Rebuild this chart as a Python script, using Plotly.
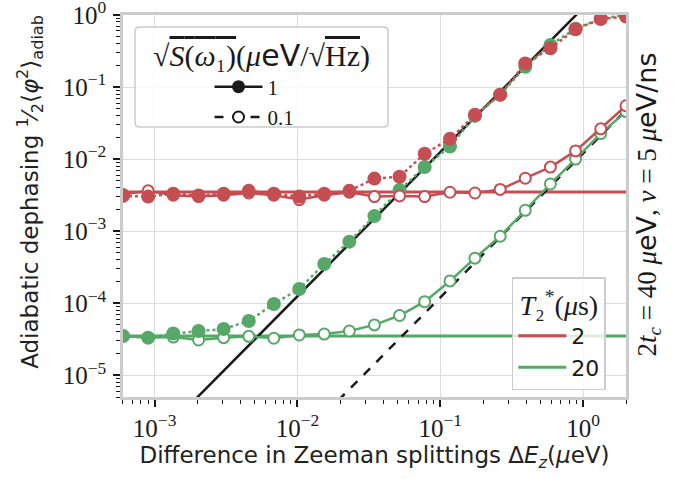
import plotly.graph_objects as go

# ---- data ----
delta_ez = [6.0e-4, 9.0e-4, 1.35e-3, 2.03e-3, 3.04e-3, 4.56e-3, 6.83e-3, 1.03e-2,
            1.54e-2, 2.31e-2, 3.46e-2, 5.19e-2, 7.78e-2, 0.117, 0.175, 0.263,
            0.394, 0.591, 0.887, 1.33, 2.0]

red_noise1 = [3.09e-3, 3.02e-3, 3.31e-3, 3.13e-3, 3.31e-3, 3.63e-3, 3.31e-3, 3.02e-3,
              3.31e-3, 3.63e-3, 5.37e-3, 5.69e-3, 1.19e-2, 1.91e-2, 4.12e-2, 7.85e-2,
              0.212, 0.345, 0.635, 0.877, 0.955]
red_noise01 = [3.24e-3, 3.63e-3, 3.16e-3, 3.02e-3, 3.16e-3, 3.39e-3, 3.16e-3, 2.75e-3,
               3.16e-3, 3.47e-3, 3.02e-3, 3.09e-3, 3.02e-3, 3.47e-3, 3.39e-3, 3.80e-3,
               5.43e-3, 7.76e-3, 1.30e-2, 2.63e-2, 5.50e-2]
green_noise1 = [3.51e-5, 3.33e-5, 3.80e-5, 4.12e-5, 4.40e-5, 5.68e-5, 9.77e-5, 1.58e-4,
                3.51e-4, 7.16e-4, 1.62e-3, 3.72e-3, 7.76e-3, 1.50e-2, 3.98e-2, 7.82e-2,
                0.191, 0.383, 0.646, 0.891, 1.0]
green_noise01 = [3.51e-5, 3.33e-5, 3.39e-5, 3.09e-5, 3.33e-5, 3.47e-5, 3.27e-5, 3.63e-5,
                 3.74e-5, 4.12e-5, 5.01e-5, 6.76e-5, 1.05e-4, 2.04e-4, 4.22e-4, 8.51e-4,
                 1.95e-3, 4.52e-3, 1.0e-2, 2.26e-2, 4.57e-2]

t2_labels = ["2", "20"]
t2_limits = [3.5e-3, 3.5e-5]

asym_x = [6.0e-4, 2.0]
asym_noise1 = [4.5e-7, 5.0]
asym_noise01 = [4.32e-9, 4.8e-2]

noise_labels = ["1", "0.1"]

x_ticks = [1e-3, 1e-2, 1e-1, 1e0]
x_ticktext = ["10<sup>−3</sup>", "10<sup>−2</sup>", "10<sup>−1</sup>", "10<sup>0</sup>"]
y_ticks = [1e-5, 1e-4, 1e-3, 1e-2, 1e-1, 1e0]
y_ticktext = ["10<sup>−5</sup>", "10<sup>−4</sup>", "10<sup>−3</sup>", "10<sup>−2</sup>",
              "10<sup>−1</sup>", "10<sup>0</sup>"]

RED = "#C44E52"
GREEN = "#55A868"
BLACK = "#1a1a1a"
SERIF = "Liberation Serif"
SANS = "DejaVu Sans"

fig = go.Figure()

# T2* limit lines
for lab, lim, col in zip(t2_labels, t2_limits, [RED, GREEN]):
    fig.add_trace(go.Scatter(
        x=[delta_ez[0], delta_ez[-1]], y=[lim, lim], mode="lines",
        line=dict(color=col, width=3), name=lab, legend="legend2", showlegend=True))

# asymptotes
fig.add_trace(go.Scatter(x=asym_x, y=asym_noise1, mode="lines",
                         line=dict(color=BLACK, width=2.5), showlegend=False))
fig.add_trace(go.Scatter(x=asym_x, y=asym_noise01, mode="lines",
                         line=dict(color=BLACK, width=2.5, dash="dash"), showlegend=False))

def add_series(y, col, filled):
    if filled:
        fig.add_trace(go.Scatter(
            x=delta_ez, y=y, mode="lines+markers",
            line=dict(color=col, width=2.5, dash="dot"),
            marker=dict(size=14, color=col, line=dict(width=0)),
            showlegend=False))
    else:
        fig.add_trace(go.Scatter(
            x=delta_ez, y=y, mode="lines+markers",
            line=dict(color=col, width=2.5),
            marker=dict(size=11, color="white", line=dict(width=2, color=col)),
            showlegend=False))

add_series(green_noise01, GREEN, False)
add_series(green_noise1, GREEN, True)
add_series(red_noise01, RED, False)
add_series(red_noise1, RED, True)

# legend 1 entries (noise amplitude)
fig.add_trace(go.Scatter(x=[None], y=[None], mode="lines+markers", name=noise_labels[0],
                         line=dict(color=BLACK, width=2.5),
                         marker=dict(size=13, color=BLACK), legend="legend"))
fig.add_trace(go.Scatter(x=[None], y=[None], mode="lines+markers", name=noise_labels[1],
                         line=dict(color=BLACK, width=2.5, dash="dash"),
                         marker=dict(size=11, color="white", line=dict(width=2, color=BLACK)),
                         legend="legend"))

ov = "<span style='text-decoration:overline'>"
leg1_title = ("√" + ov + "<i>S</i>(<i>ω</i>₁)</span>(<i>μ</i>"
              "<span style='font-family:" + SANS + "'>eV</span>/√" + ov + "Hz</span>)")
leg2_title = "<i>T</i>₂<sup>*</sup>(<i>μ</i>s)"

axis_common = dict(
    type="log", showline=True, linecolor="#cccccc", linewidth=2.5, mirror=True,
    showgrid=True, gridcolor="#dcdcdc", gridwidth=1, zeroline=False, automargin=False,
    ticks="outside", ticklen=7, tickwidth=1.5, tickcolor=BLACK,
    tickfont=dict(family=SERIF, size=25, color=BLACK), ticklabeloverflow="allow",
)

minor_x = [m * 10.0 ** e for e in range(-4, 1) for m in range(2, 10)]
minor_y = [m * 10.0 ** e for e in range(-6, 0) for m in range(2, 10)]

# legend-1 frame (paper coordinates) with rounded corners
bx0, bx1, by0, by1 = 0.0239, 0.527, 0.7068, 0.9686
rx, ry = 0.009, 0.012
frame_path = (f"M {bx0+rx},{by1} L {bx1-rx},{by1} Q {bx1},{by1} {bx1},{by1-ry} "
              f"L {bx1},{by0+ry} Q {bx1},{by0} {bx1-rx},{by0} L {bx0+rx},{by0} "
              f"Q {bx0},{by0} {bx0},{by0+ry} L {bx0},{by1-ry} Q {bx0},{by1} {bx0+rx},{by1} Z")

fig.update_layout(
    width=696, height=479,
    margin=dict(l=123, r=70, t=15, b=82, autoexpand=False),
    paper_bgcolor="white", plot_bgcolor="white",
    xaxis=dict(axis_common, range=[-3.2218, 0.30103], tickvals=x_ticks, ticktext=x_ticktext,
               minor=dict(tickvals=minor_x, ticks="outside", ticklen=4, tickwidth=1,
                          tickcolor=BLACK, showgrid=False),
               title=dict(text="Difference in Zeeman splittings Δ<i>E<sub>z</sub></i>(<i>μ</i>eV)",
                          font=dict(family=SANS, size=23, color="#222"), standoff=6)),
    yaxis=dict(axis_common, range=[-5.30103, 0], tickvals=y_ticks, ticktext=y_ticktext,
               ticklabelstandoff=2,
               minor=dict(tickvals=minor_y, ticks="outside", ticklen=4, tickwidth=1,
                          tickcolor=BLACK, showgrid=False)),
    shapes=[dict(type="path", xref="paper", yref="paper", path=frame_path,
                 fillcolor="rgba(255,255,255,0.85)", line=dict(color="#cccccc", width=1.5),
                 layer="above")],
    legend=dict(x=0.172, y=0.865, xanchor="left", yanchor="top",
                bgcolor="rgba(0,0,0,0)", borderwidth=0,
                font=dict(family=SERIF, size=21, color=BLACK),
                itemwidth=48, tracegroupgap=0),
    legend2=dict(x=0.773, y=0.314, xanchor="left", yanchor="top",
                 bgcolor="rgba(255,255,255,0.8)", bordercolor="#cccccc", borderwidth=1.5,
                 font=dict(family=SANS, size=22, color=BLACK),
                 title=dict(text=leg2_title, font=dict(family=SERIF, size=28, color=BLACK),
                            side="top center"),
                 itemwidth=48),
)

# legend-1 title
fig.add_annotation(
    x=(bx0 + bx1) / 2, y=0.895, xref="paper", yref="paper", xanchor="center", yanchor="middle",
    showarrow=False, text=leg1_title, font=dict(family=SERIF, size=30, color=BLACK))

# y-axis title
fig.add_annotation(
    x=-0.185, y=0.537, xref="paper", yref="paper", xanchor="center", yanchor="middle",
    textangle=-90, showarrow=False,
    text="Adiabatic dephasing <sup>1</sup>⁄<sub>2</sub>⟨<i>φ</i><sup>2</sup>⟩<sub>adiab</sub>",
    font=dict(family=SANS, size=23, color="#222"))

# right-side parameter text
fig.add_annotation(
    x=1.045, y=0.503, xref="paper", yref="paper", xanchor="center", yanchor="middle",
    textangle=-90, showarrow=False,
    text=("2<i>t<sub>c</sub></i> = 40 <i>μ</i><span style='font-family:" + SANS + "'>eV</span>, "
          "<i>v</i> = 5 <i>μ</i><span style='font-family:" + SANS + "'>eV/ns</span>"),
    font=dict(family=SERIF, size=27, color=BLACK))

fig.write_html("out.html")
